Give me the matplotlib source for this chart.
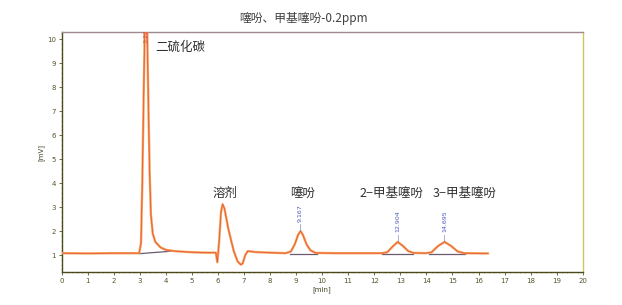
import matplotlib
matplotlib.use("Agg")
import matplotlib.pyplot as plt
from matplotlib.ticker import MultipleLocator

plt.rcParams['font.family'] = ['Noto Sans CJK SC', 'DejaVu Sans']

# chromatogram trace (time in min, signal in mV)
time_min = [0.0, 1.0, 2.0, 2.98, 3.05, 3.10, 3.15, 3.20, 3.28, 3.33, 3.38, 3.43, 3.50,
            3.60, 3.80, 4.00, 4.30, 4.80, 5.50, 5.92, 5.98, 6.05, 6.12, 6.18, 6.25,
            6.40, 6.60, 6.75, 6.88, 6.95, 7.05, 7.15, 7.40, 8.00, 8.60, 8.80, 8.95,
            9.08, 9.17, 9.26, 9.40, 9.55, 9.75, 10.5, 12.3, 12.5, 12.7, 12.9, 13.1,
            13.3, 13.5, 14.0, 14.2, 14.45, 14.7, 14.95, 15.2, 15.45, 16.36]
signal_mv = [1.08, 1.07, 1.08, 1.08, 1.5, 4.0, 7.5, 10.8, 10.8, 7.5, 4.5, 2.7, 1.9,
             1.55, 1.32, 1.22, 1.17, 1.13, 1.10, 1.10, 0.70, 1.6, 2.8, 3.12, 2.95,
             2.10, 1.20, 0.75, 0.60, 0.65, 1.00, 1.17, 1.13, 1.10, 1.08, 1.15, 1.45,
             1.85, 2.00, 1.85, 1.45, 1.20, 1.09, 1.08, 1.08, 1.12, 1.35, 1.55, 1.38,
             1.17, 1.09, 1.08, 1.12, 1.38, 1.55, 1.38, 1.15, 1.08, 1.07]

# integration baselines
base_start = [3.00, 8.75, 12.30, 14.10]
base_end = [4.30, 9.80, 13.50, 15.50]
base_start_v = [1.06, 1.06, 1.06, 1.06]
base_end_v = [1.17, 1.06, 1.06, 1.06]

# retention-time annotations
rt_labels = ["9.167", "12.904", "14.695"]
rt_pos = [9.167, 12.904, 14.695]
rt_height = [2.00, 1.55, 1.55]

# compound names
names = ["二硫化碳", "溶剂", "噻吩", "2−甲基噻吩", "3−甲基噻吩"]
name_x = [3.59, 5.81, 8.77, 11.45, 14.25]
name_y = [9.67, 3.58, 3.58, 3.58, 3.58]

fig = plt.figure(figsize=(6.22, 3.05), dpi=100)
ax = fig.add_axes([0.0989, 0.107, 0.838, 0.788])

ax.plot(time_min, signal_mv, color='#f5a055', lw=1.7, zorder=3)
ax.plot(time_min, signal_mv, color='#e8503a', lw=0.5, zorder=4)
for s, e, sv, ev in zip(base_start, base_end, base_start_v, base_end_v):
    ax.plot([s, e], [sv, ev], color='#6a5a70', lw=0.9, zorder=2)

for lab, x, h in zip(rt_labels, rt_pos, rt_height):
    ax.plot([x, x], [h + 0.05, h + 0.3], color='#8090c0', lw=0.5, zorder=5)
    ax.text(x, h + 0.4, lab, rotation=90, ha='center', va='bottom',
            fontsize=4.5, color='#4a5ac0', family='DejaVu Sans')
ax.text(3.24, 9.85, "3.227", rotation=90, ha='center', va='bottom',
        fontsize=4.5, color='#c05050', family='DejaVu Sans', clip_on=True, zorder=6)

for n, x, y in zip(names, name_x, name_y):
    ax.text(x, y, n, ha='left', va='center', fontsize=9, color='#303030')

ax.set_xlim(0, 20)
ax.set_ylim(0.28, 10.3)
ax.set_xticks(range(0, 21))
ax.set_yticks(range(1, 11))
ax.xaxis.set_minor_locator(MultipleLocator(0.2))
ax.yaxis.set_minor_locator(MultipleLocator(0.2))
ax.tick_params(axis='both', which='major', labelsize=5, length=2, width=0.6,
               colors='#55552a', pad=2)
ax.tick_params(axis='both', which='minor', length=1, width=0.4, colors='#77774a')
for lbl in ax.get_xticklabels() + ax.get_yticklabels():
    lbl.set_family('DejaVu Sans')
ax.set_xlabel("[min]", fontsize=5, color='#404020', labelpad=2, family='DejaVu Sans')
ax.set_ylabel("[mV]", fontsize=5, color='#404020', labelpad=2, family='DejaVu Sans')

ax.spines['left'].set_color('#4a4a1a')
ax.spines['bottom'].set_color('#4a4a1a')
ax.spines['top'].set_color('#a08890')
ax.spines['right'].set_color('#c8c860')
for sp in ax.spines.values():
    sp.set_linewidth(1.0)

fig.text(304 / 622, 1 - 18 / 305, "噻吩、甲基噻吩-0.2ppm", ha='center', va='center',
         fontsize=8.5, color='#404040')

fig.savefig("out.png", dpi=100)
